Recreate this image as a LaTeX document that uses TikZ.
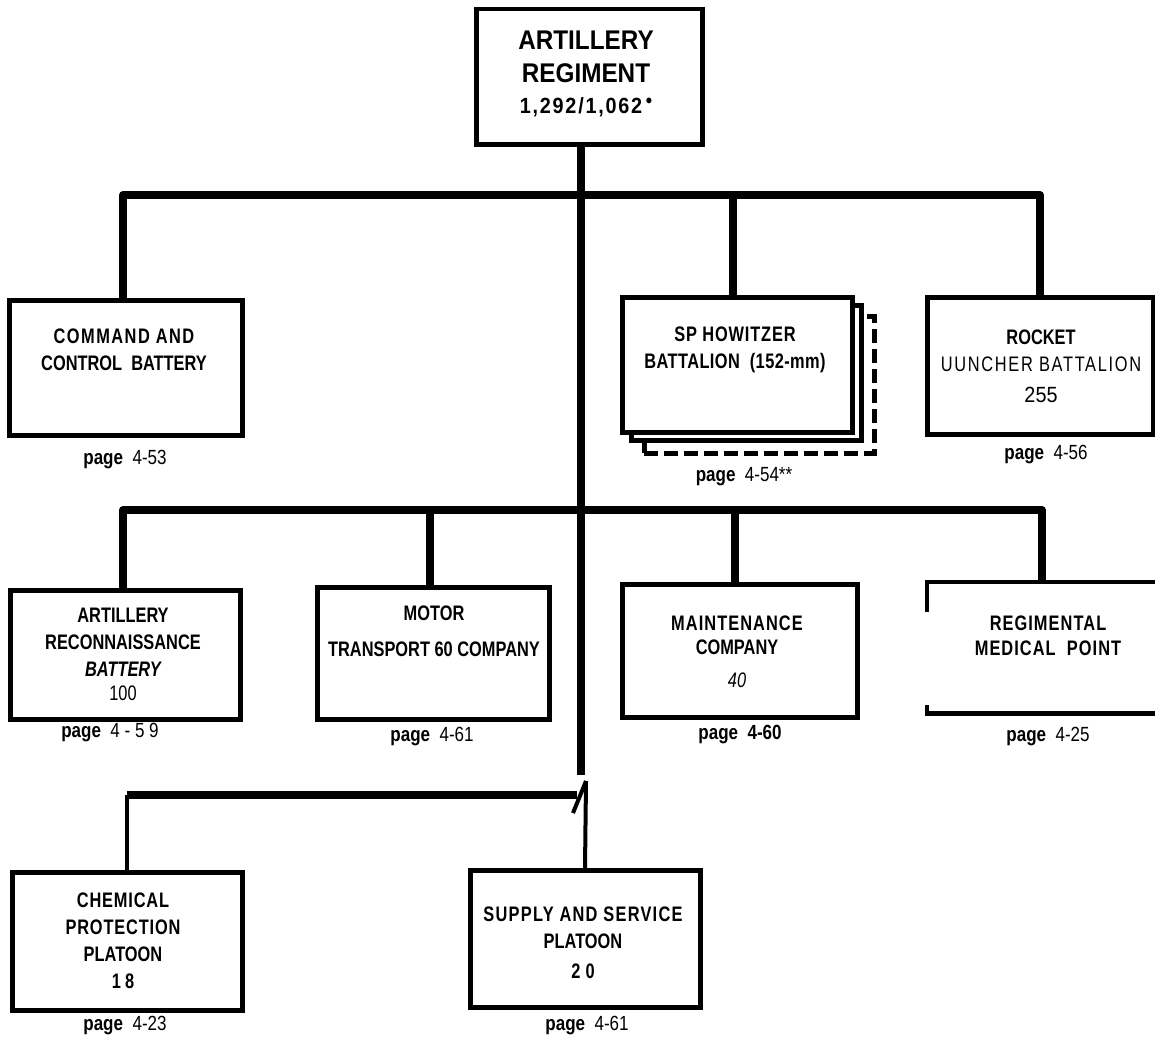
\documentclass[tikz,border=0pt]{standalone}
\usepackage{fontspec}
\setmainfont{Liberation Sans}
\newfontfamily\cnd{Liberation Sans}[FakeStretch=0.78]
\newfontfamily\pnd{Liberation Sans}[FakeStretch=0.83]
\newfontfamily\tnd{Liberation Sans}[FakeStretch=0.9]
\newcommand\lsp[2]{{\addfontfeature{LetterSpace=#1}#2}}
\begin{document}
\begin{tikzpicture}[x=1pt,y=-1pt,
  box/.style={draw, line width=4.5pt, inner sep=0, anchor=north west, fill=white},
  openbox/.style={inner sep=0, anchor=north west},
  border/.style={line width=4.5pt},
  bus/.style={line width=8pt, line join=round},
  stem/.style={line width=4pt},
  lbl/.style={font=\cnd\bfseries\fontsize{21}{27}\selectfont, align=center, inner sep=0},
  toplbl/.style={font=\tnd\bfseries\fontsize{27}{33}\selectfont, align=center, inner sep=0},
  pg/.style={font=\pnd\fontsize{20.5}{22}\selectfont, inner sep=0}]
\useasboundingbox (0,0) rectangle (1155,1038);

% x positions of stems
\coordinate (tx) at (581,0);
\coordinate (cmdx) at (123,0);
\coordinate (spx) at (733,0);
\coordinate (rktx) at (1040,0);
\coordinate (recx) at (123,0);
\coordinate (motx) at (430,0);
\coordinate (mntx) at (735,0);
\coordinate (medx) at (1042,0);
\coordinate (chmx) at (127,0);
\coordinate (supx) at (585,0);
% y positions of buses
\coordinate (b1) at (0,195);
\coordinate (b2) at (0,510);
\coordinate (b3) at (0,795);
\coordinate (tend) at (581,775);
\coordinate (jend) at (577,795);
\coordinate (slA) at (573,813);
\coordinate (slB) at (586,781);

% boxes
\node[box, minimum width=226pt, minimum height=135pt] (reg) at (474,7) {};
\node[box, minimum width=233pt, minimum height=135pt] (cmd) at (7,298) {};
\node[box, dashed, dash pattern=on 14pt off 6pt, minimum width=230pt, minimum height=137pt] (sp3) at (642,314) {};
\node[box, minimum width=230pt, minimum height=135pt] (sp2) at (629,303) {};
\node[box, minimum width=230pt, minimum height=135pt] (sp) at (620,295) {};
\node[box, minimum width=226pt, minimum height=137pt] (rkt) at (925,295) {};
\node[box, minimum width=230pt, minimum height=129pt] (rec) at (8,588) {};
\node[box, minimum width=232pt, minimum height=132pt] (mot) at (315,585) {};
\node[box, minimum width=235pt, minimum height=133pt] (mnt) at (620,582) {};
\node[openbox, minimum width=228pt, minimum height=131pt] (med) at (927,582) {};
\node[box, minimum width=230pt, minimum height=138pt] (chm) at (10,870) {};
\node[box, minimum width=230pt, minimum height=137pt] (sup) at (468,868) {};

% open medical box
\draw[border] (927,612) -- (med.north west) -- (med.north east);
\draw[border] (927,705) -- (med.south west) -- (med.south east);

% trunk and buses
\draw[bus] (reg.south -| tx) -- (tend);
\draw[bus] (cmd.north -| cmdx) -- (cmdx |- b1) -- (rktx |- b1) -- (rkt.north -| rktx);
\draw[bus] (spx |- b1) -- (sp.north -| spx);
\draw[bus] (rec.north -| recx) -- (recx |- b2) -- (medx |- b2) -- (med.north -| medx);
\draw[bus] (motx |- b2) -- (mot.north -| motx);
\draw[bus] (mntx |- b2) -- (mnt.north -| mntx);
\draw[bus] (chmx |- b3) -- (jend);
\draw[line width=4pt] (slA) -- (slB);
\draw[stem] (chmx |- b3) -- (chm.north -| chmx);
\draw[stem] (slB) -- (sup.north -| supx);

% texts
\node[toplbl] (regt) at (586,74) {ARTILLERY\\REGIMENT\\[-2pt]{\fontsize{22}{24}\selectfont\lsp{8}{1,292/1,062}\,\raisebox{0.55ex}{\fontsize{20}{20}\selectfont\textbullet}}};
\node[lbl] (cmdt) at (124,350) {\lsp{7}{COMMAND AND}\\CONTROL\ \ BATTERY};
\node[lbl] (spt) at (735,350) {\lsp{4}{SP HOWITZER}\\\lsp{2}{BATTALION\ \ (152-mm)}};
\node[lbl] (rktt) at (1041,366) {ROCKET\\{\mdseries\lsp{8}{UUNCHER BATTALION}}\\[4pt]{\tnd\mdseries\fontsize{22}{24}\selectfont 255}};
\node[lbl] (rect) at (123,654) {ARTILLERY\\RECONNAISSANCE\\{\itshape BATTERY}\\[-3pt]{\mdseries 100}};
\node[lbl] (mott) at (434,631) {MOTOR\\[9pt]TRANSPORT 60 COMPANY};
\node[lbl] (mntt) at (737,652) {\lsp{5}{MAINTENANCE}\\[-3pt]COMPANY\\[6pt]{\mdseries\itshape 40}};
\node[lbl] (medt) at (1048,636) {\lsp{5}{REGIMENTAL}\\[-2pt]\lsp{5}{MEDICAL\ \ POINT}};
\node[lbl] (chmt) at (123,941) {\lsp{4}{CHEMICAL}\\\lsp{4}{PROTECTION}\\PLATOON\\\lsp{20}{18}};
\node[lbl] (supt) at (583,943) {\lsp{6}{SUPPLY AND SERVICE}\\PLATOON\\[3pt]\lsp{25}{20}};

% page references
\node[pg] (cmdp) at (125,460) {\textbf{page}\ \ 4-53};
\node[pg] (spp) at (744,477) {\textbf{page}\ \ 4-54**};
\node[pg] (rktp) at (1046,455) {\textbf{page}\ \ 4-56};
\node[pg] (recp) at (110,733) {\textbf{page}\ \ 4 - 5 9};
\node[pg] (motp) at (432,737) {\textbf{page}\ \ 4-61};
\node[pg] (mntp) at (740,735) {\textbf{page\ \ 4-60}};
\node[pg] (medp) at (1048,737) {\textbf{page}\ \ 4-25};
\node[pg] (chmp) at (125,1025) {\textbf{page}\ \ 4-23};
\node[pg] (supp) at (587,1025) {\textbf{page}\ \ 4-61};
\end{tikzpicture}
\end{document}
